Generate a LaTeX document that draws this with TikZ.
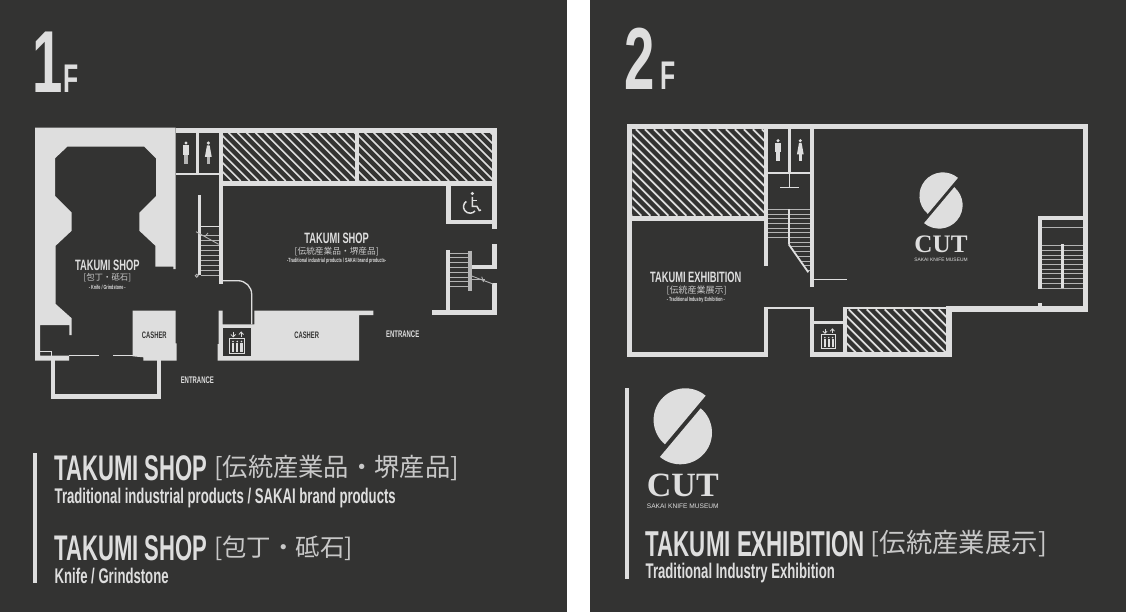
\documentclass[tikz,border=0pt]{standalone}
\usepackage{graphicx}
\usepackage{fontspec}
\newfontfamily\din[FakeStretch=.62]{Liberation Sans}
\newfontfamily\lib{Liberation Sans}
\newfontfamily\cutfont{Liberation Serif}
\newfontfamily\cjk{Noto Sans CJK JP}
\definecolor{panelbg}{HTML}{333332}
\definecolor{wallcol}{HTML}{DEDEDE}
\definecolor{stepcol}{HTML}{B4B4B4}
\definecolor{cjkcol}{HTML}{C8C8C8}
\tikzset{
	wallfill/.style={fill=wallcol},
	thinwall/.style={draw=wallcol,line width=1.3},
	stepline/.style={draw=stepcol,line width=.9},
	hatchline/.style={draw=wallcol,line width=1.7},
	iconline/.style={draw=wallcol,line width=.8},
	floorname/.style={text=wallcol,inner sep=0,anchor=base west,font=\din\bfseries\fontsize{35.6}{35.6}\selectfont},
	floorsub/.style={text=wallcol,inner sep=0,anchor=base west,font=\din\bfseries\fontsize{21.2}{21.2}\selectfont},
	floorjp/.style={text=cjkcol,inner sep=0,anchor=west,font=\cjk\fontsize{25.3}{25.3}\selectfont},
	roomname/.style={text=wallcol,inner sep=0,font=\din\bfseries\fontsize{15}{15}\selectfont},
	roomjp/.style={text=cjkcol,inner sep=0,font=\cjk\fontsize{8.7}{8.7}\selectfont},
	roomsub/.style={text=wallcol,inner sep=0,font=\din\bfseries\fontsize{6}{6}\selectfont},
	desklabel/.style={text=panelbg,inner sep=0,font=\din\bfseries\fontsize{9.4}{9.4}\selectfont},
	doorlabel/.style={text=wallcol,inner sep=0,font=\din\bfseries\fontsize{9.6}{9.6}\selectfont},
	bigfloor/.style={text=wallcol,inner sep=0,anchor=base west,font=\din\bfseries\fontsize{88}{88}\selectfont},
	bigf/.style={text=wallcol,inner sep=0,anchor=base west,font=\din\bfseries\fontsize{40}{40}\selectfont},
}
\newcommand{\hatchbox}[4]{
	\begin{scope}
		\clip (#1,#2) rectangle (#3,#4);
		\pgfmathsetmacro{\hatchh}{#4-#2}
		\foreach \k in {0,...,30}{
			\pgfmathsetmacro{\hatchx}{#1-\hatchh+\k*9}
			\draw[hatchline] (\hatchx,#2)--++(\hatchh,\hatchh);
		}
	\end{scope}
}
\newcommand{\elevicon}[3]{
	\begin{scope}[shift={(#1,#2)},scale=#3]
		\draw[iconline] (-7.5,-7.5) rectangle (7.5,7.5);
		\foreach \ex in {-4.2,0,4.2}{
			\fill[wallfill] (\ex,-4) circle (.9);
			\fill[wallfill] (\ex-1.1,-2.8) rectangle (\ex+1.1,6);
		}
		\draw[iconline] (-4,-13.5)--(-4,-8.7);
		\draw[iconline] (-6.3,-11)--(-4,-8.7)--(-1.7,-11);
		\draw[iconline] (4,-13.5)--(4,-8.7);
		\draw[iconline] (1.7,-11)--(4,-13.5)--(6.3,-11);
	\end{scope}
}
\newcommand{\manicon}[3]{
	\fill[wallfill] (#1,#2+1.7) circle (1.7);
	\fill[wallfill] (#1-2.9,#2+4) rectangle (#1+2.9,#2+13.5);
	\fill[#3] (#1-2,#2+13.5) rectangle (#1+2,#2+22.3);
}
\newcommand{\womanicon}[3]{
	\fill[wallfill] (#1,#2+1.7) circle (1.7);
	\fill[wallfill] (#1-1.3,#2+4)--(#1+1.3,#2+4)--(#1+3.4,#2+15.5)--(#1-3.4,#2+15.5)--cycle;
	\fill[#3] (#1-1.4,#2+15.5) rectangle (#1+1.4,#2+22.3);
}
\newcommand{\cutlogo}[4]{
	\begin{scope}[shift={(#2,#3)},scale=#4,transform shape]
		\fill[wallfill] (2.5,-6.3) ++(-50:31.7) arc[start angle=-50,end angle=-230,radius=31.7]--cycle;
		\fill[wallfill] (-2.5,6.3) ++(-50:31.7) arc[start angle=-50,end angle=130,radius=31.7]--cycle;
		\node[text=wallcol,inner sep=0] (#1cut) at (0,58.8) {\cutfont\bfseries\fontsize{34}{34}\selectfont CUT};
		\node[text=wallcol,inner sep=0] (#1sub) at (0,79.5) {\lib\fontsize{6.6}{6.6}\selectfont SAKAI KNIFE MUSEUM};
	\end{scope}
}
\begin{document}
\begin{tikzpicture}[x=1pt,y=-1pt]
	\useasboundingbox (0,0) rectangle (1126,612);
	\fill[white] (0,0) rectangle (1126,612);
	\fill[panelbg] (0,0) rectangle (567,612);
	\fill[panelbg] (590,0) rectangle (1126,612);

	\node[bigfloor] (floorone) at (32.5,92.3) {1};
	\node[bigf] (floorones) at (63,92.3) {F};
	\node[bigfloor] (floortwo) at (624.5,90) {2};
	\node[bigf] (floortwos) at (660.5,90) {F};

	\fill[wallfill] (35,127.7)--(175.7,127.7)--(175.7,269)--(173.3,269)--(173.3,266.7)--(155.3,266.7)--(155.3,245.7)--(139.3,230.7)--(139.3,212.7)--(156,196)--(156,158.3)--(144.3,146.7)--(67.3,146.7)--(55,158.3)--(55,196)--(71.7,212.7)--(71.7,230.7)--(55.7,245.7)--(55.7,304)--(71.7,318.3)--(71.7,335)--(69.3,335)--(69.3,325)--(40,325)--(40,355.7)--(69,355.7)--(69,360.7)--(35,360.7)--cycle;
	\draw[thinwall] (40,351.7)--(51.7,351.7)--(51.7,355.7);
	\draw[thinwall] (69,355.7)--(99,355.7);
	\draw[thinwall] (113.3,355.7)--(132.7,355.7);
	\fill[wallfill] (132.7,310.7)--(175.7,310.7)--(175.7,343.3)--(176.7,343.3)--(176.7,360.7)--(143.3,360.7)--(143.3,357.3)--(132.7,356.3)--cycle;
	\draw[draw=wallcol,line width=4.6] (53,360)--(53,396.3)--(159,396.3)--(159,360);

	\fill[wallfill] (175.7,127.7) rectangle (496.7,132.7);
	\fill[wallfill] (492,127.7) rectangle (496.7,229.3);
	\fill[wallfill] (218.7,181) rectangle (496.7,185.7);
	\fill[wallfill] (355,132.7) rectangle (359,181);
	\fill[wallfill] (218.7,127.7) rectangle (222.7,284.3);
	\fill[wallfill] (196,127.7) rectangle (199,172.7);
	\fill[wallfill] (175.7,172.7) rectangle (219,175);
	\fill[wallfill] (446,185) rectangle (450.7,224);
	\fill[wallfill] (446,220) rectangle (492,224);
	\fill[wallfill] (492,243.7) rectangle (496.7,269.3);
	\fill[wallfill] (471.7,265) rectangle (492,268.5);
	\fill[wallfill] (492,283.3) rectangle (496.7,315);
	\fill[wallfill] (431.7,310.3) rectangle (496.7,315);
	\fill[wallfill] (446,250.3) rectangle (450,310.3);
	\hatchbox{222.7}{132.7}{355}{181}
	\hatchbox{359}{132.7}{492}{181}

	\fill[wallfill] (254.3,310.7)--(373.3,310.7)--(373.3,315)--(359,315)--(359,360.7)--(217.7,360.7)--(217.7,344)--(218.7,344)--(218.7,310.7)--(222.7,310.7)--(222.7,324.3)--(254.3,324.3)--cycle;
	\fill[panelbg] (222.7,327.7) rectangle (251,355.7);
	\elevicon{237.2}{345.5}{1}
	\draw[thinwall] (222.7,280.7)--(238,280.7) arc[start angle=-90,end angle=0,radius=13.7]--(251.7,324.3);

	\fill[wallfill] (198.3,195) rectangle (200.7,275);
	\draw[draw=wallcol,line width=1.5] (199.5,226.7)--(219,226.7);
	\foreach \s in {235,240,...,275}{
		\draw[stepline] (200.7,\s)--(219,\s);
	}
	\draw[stepline] (196,231.7)--(218.7,244.3);
	\draw[stepline] (205,236.5)--(208,233);
	\draw[stepline] (196.7,275.7) circle (1.5);
	\foreach \s in {253,257.8,...,291}{
		\draw[stepline] (450,\s)--(469,\s);
	}
	\draw[draw=stepcol,line width=3.2] (470,250.7)--(470,291);
	\draw[stepline] (471.7,276)--(493,284);
	\draw[stepline] (471.7,279.3)--(485,279.3);
	\draw[stepline] (481.7,276.7)--(483.5,282);

	\manicon{186}{141.3}{stepcol}
	\womanicon{208.3}{141.3}{stepcol}
	\fill[wallfill] (472.3,193.5) circle (1.7);
	\draw[draw=wallcol,line width=1.5] (472.3,197)--(472.3,206.5)--(477,206.5)--(479.3,210.5)--(481,210);
	\draw[draw=wallcol,line width=1.2] (472.3,200.5)--(477,200.5);
	\draw[draw=wallcol,line width=1.5] (466.3,201.4) arc[start angle=-125,end angle=-320,radius=6.5];

	\node[roomname] (shopknife) at (107.3,265) {TAKUMI SHOP};
	\node[roomjp,font=\cjk\fontsize{8.4}{8.4}\selectfont] (shopknifejp) at (107.3,277.7) {[包丁・砥石]};
	\node[roomsub] (shopknifeen) at (107.3,287) {- Knife / Grindstone -};
	\node[roomname] (shopbrand) at (336.7,238.3) {TAKUMI SHOP};
	\node[roomjp] (shopbrandjp) at (336.7,251.7) {[伝統産業品・堺産品]};
	\node[roomsub] (shopbranden) at (336.7,260.7) {-Traditional industrial products / SAKAI brand products-};
	\node[desklabel] (casherone) at (154.3,335) {CASHER};
	\node[desklabel] (cashertwo) at (306.7,335) {CASHER};
	\node[doorlabel] (entranceone) at (197.3,380) {ENTRANCE};
	\node[doorlabel] (entrancetwo) at (402.7,334.3) {ENTRANCE};

	\fill[wallfill] (33.3,452.7) rectangle (36.7,583.3);
	\node[floorname] (nameone) at (54.5,480) {TAKUMI SHOP};
	\node[floorjp] (jpone) at (214,468) {[伝統産業品・堺産品]};
	\node[floorsub] (subone) at (54.5,503) {Traditional industrial products / SAKAI brand products};
	\node[floorname] (nametwo) at (54.5,560.7) {TAKUMI SHOP};
	\node[floorjp,font=\cjk\fontsize{24.5}{24.5}\selectfont] (jptwo) at (214,548) {[包丁・砥石]};
	\node[floorsub] (subtwo) at (54.5,583) {Knife / Grindstone};

	\fill[wallfill] (627.3,124) rectangle (1088.3,129.3);
	\fill[wallfill] (627.3,124) rectangle (632.3,357.3);
	\fill[wallfill] (627.3,352.3) rectangle (768.3,357.3);
	\fill[wallfill] (632.3,215.7) rectangle (768.3,221);
	\fill[wallfill] (764.3,124) rectangle (768.3,265.7);
	\fill[wallfill] (788.3,124) rectangle (791,171.7);
	\fill[wallfill] (768.3,171.7) rectangle (810.3,174);
	\fill[wallfill] (810.3,124) rectangle (814.3,287.3);
	\draw[thinwall,line width=.9] (789.6,174)--(789.6,187.3);
	\draw[thinwall,line width=.9] (780,187.3)--(799,187.3);
	\draw[thinwall] (814.3,279.3)--(847.3,279.3);
	\fill[wallfill] (764.3,306.7) rectangle (814.3,309.3);
	\fill[wallfill] (764.3,306.7) rectangle (768.3,357.3);
	\fill[wallfill] (810.3,306.7) rectangle (814.3,357.3);
	\fill[wallfill] (810.3,321) rectangle (846.7,324.3);
	\fill[wallfill] (843.3,306.7) rectangle (846.7,357.3);
	\fill[wallfill] (810.3,352.3) rectangle (951.7,357.3);
	\fill[wallfill] (946,306.7) rectangle (951.7,357.3);
	\fill[wallfill] (843.3,306.7) rectangle (951.7,309.3);
	\fill[wallfill] (946,306) rectangle (1088.3,311.7);
	\fill[wallfill] (1083.3,124) rectangle (1088.3,311.7);
	\fill[wallfill] (1038.3,303.3) rectangle (1041.7,306.7);
	\hatchbox{632.3}{129.3}{764.3}{215.7}
	\hatchbox{846.7}{309.3}{946}{352.3}

	\foreach \s in {209.3,214,...,238}{
		\draw[stepline] (768.3,\s)--(787.7,\s);
	}
	\begin{scope}
		\clip (788.3,205)--(810.3,205)--(810.3,272.3)--(808.3,272.3)--(788.3,244.3)--cycle;
		\foreach \s in {209.3,214,...,272}{
			\draw[stepline] (790.3,\s)--(810.3,\s);
		}
	\end{scope}
	\fill[wallfill] (787.7,209) rectangle (790.3,244.3);
	\draw[draw=wallcol,line width=1.8] (788.7,244.3)--(808.3,272.3);
	\elevicon{828.7}{341.3}{.92}

	\fill[wallfill] (1038.3,216) rectangle (1041.7,289);
	\fill[wallfill] (1038.3,216) rectangle (1083.3,220);
	\draw[stepline] (1041.7,227.3)--(1083.3,227.3);
	\foreach \s in {245.7,250.4,...,288}{
		\draw[stepline] (1041.7,\s)--(1083.3,\s);
	}
	\fill[wallfill] (1061,244.3) rectangle (1064,287.7);

	\manicon{778}{139}{wallfill}
	\womanicon{800.3}{139}{wallfill}
	\node[roomname] (exhibit) at (695.8,277.7) {TAKUMI EXHIBITION};
	\node[roomjp,font=\cjk\fontsize{9}{9}\selectfont] (exhibitjp) at (696.7,290.7) {[伝統産業展示]};
	\node[roomsub] (exhibiten) at (695.8,300) {- Traditional Industry Exhibition -};

	\cutlogo{small}{941}{200.5}{.74}
	\cutlogo{large}{682.8}{426.3}{1}

	\fill[wallfill] (625,388) rectangle (629,579);
	\node[floorname,font=\din\bfseries\fontsize{36}{36}\selectfont] (namethree) at (645.5,556) {TAKUMI EXHIBITION};
	\node[floorjp,font=\cjk\fontsize{26.4}{26.4}\selectfont] (jpthree) at (870.5,544) {[伝統産業展示]};
	\node[floorsub] (subthree) at (645.5,578.5) {Traditional Industry Exhibition};
\end{tikzpicture}
\end{document}
